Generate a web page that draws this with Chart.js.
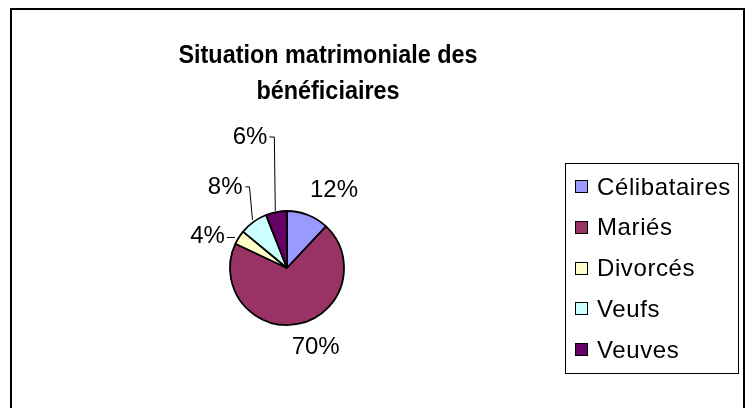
<!DOCTYPE html>
<html>
<head>
<meta charset="utf-8">
<script src="https://cdn.jsdelivr.net/npm/chart.js@4.4.1/dist/chart.umd.min.js"></script>
<style>
  html, body { margin: 0; padding: 0; background: #fff; }
  #wrap { width: 746px; height: 408px; }
</style>
</head>
<body>
<div id="wrap"><canvas id="graphique" width="746" height="408"></canvas></div>
<script>
// Données du graphique
const categories = ['Célibataires', 'Mariés', 'Divorcés', 'Veufs', 'Veuves'];
const pourcentages = [12, 70, 4, 8, 6];
const couleurs = ['#9999FF', '#993366', '#FFFFCC', '#CCFFFF', '#660066'];
const titreLignes = ['Situation matrimoniale des', 'bénéficiaires'];

// placement des étiquettes (décalages par rapport au bord de la part)
const placementEtiquettes = [
  { dx: 26, dy: -25 },
  { dx: 18, dy: 23 },
  { leader: [[-4, 0], [-12, 0]], dx: -14, dy: -1 },
  { leader: [[-1, -2], [-4, -35], [-8, -35]], dx: -11, dy: -35 },
  { leader: [[-1, -1], [-2, -75], [-7, -75]], dx: -9, dy: -75 }
];

const POLICE = '"Liberation Sans", Arial, sans-serif';

const decor = {
  id: 'decor',
  afterDraw(chart) {
    const ctx = chart.ctx;
    ctx.save();

    // cadre
    ctx.strokeStyle = '#000';
    ctx.lineWidth = 2;
    ctx.strokeRect(11, 9, 733, 404);

    // titre (police un peu resserrée comme dans Excel)
    ctx.fillStyle = '#000';
    ctx.font = 'bold 26px ' + POLICE;
    ctx.textAlign = 'center';
    ctx.textBaseline = 'alphabetic';
    ctx.save();
    ctx.translate(328, 0);
    ctx.scale(0.9, 1);
    ctx.fillText(titreLignes[0], 0, 63);
    ctx.fillText(titreLignes[1], 0, 99);
    ctx.restore();

    // étiquettes de pourcentage
    const arcs = chart.getDatasetMeta(0).data;
    ctx.font = '24px ' + POLICE;
    ctx.lineWidth = 1;
    arcs.forEach((arc, i) => {
      const p = arc.getProps(['x', 'y', 'startAngle', 'endAngle', 'outerRadius'], true);
      const mid = (p.startAngle + p.endAngle) / 2;
      const ax = p.x + Math.cos(mid) * p.outerRadius;
      const ay = p.y + Math.sin(mid) * p.outerRadius;
      const pl = placementEtiquettes[i];
      const txt = pourcentages[i] + '%';
      if (pl.leader) {
        ctx.beginPath();
        pl.leader.forEach((pt, k) => {
          if (k === 0) ctx.moveTo(ax + pt[0], ay + pt[1]);
          else ctx.lineTo(ax + pt[0], ay + pt[1]);
        });
        ctx.strokeStyle = '#000';
        ctx.stroke();
        ctx.textAlign = 'right';
      } else {
        ctx.textAlign = 'center';
      }
      ctx.textBaseline = 'middle';
      ctx.fillText(txt, ax + pl.dx, ay + pl.dy);
    });

    // légende
    ctx.strokeStyle = '#000';
    ctx.lineWidth = 1;
    ctx.strokeRect(565.5, 163.5, 173, 210);
    ctx.textAlign = 'left';
    ctx.textBaseline = 'middle';
    ctx.letterSpacing = '0.6px';
    categories.forEach((c, i) => {
      const y = 187 + i * 40.8;
      ctx.fillStyle = couleurs[i];
      ctx.fillRect(575.5, Math.round(y) - 6.5, 12, 12);
      ctx.strokeRect(575.5, Math.round(y) - 6.5, 12, 12);
      ctx.fillStyle = '#000';
      ctx.fillText(c, 597, y + 1);
    });
    ctx.restore();
  }
};

new Chart(document.getElementById('graphique'), {
  type: 'pie',
  data: {
    labels: categories,
    datasets: [{
      data: pourcentages,
      backgroundColor: couleurs,
      borderColor: '#000',
      borderWidth: 1.8
    }]
  },
  options: {
    responsive: false,
    animation: false,
    radius: 57,
    layout: { padding: { left: 187, right: 359, top: 188, bottom: 60 } },
    plugins: {
      legend: { display: false },
      title: { display: false },
      tooltip: { enabled: false }
    }
  },
  plugins: [decor]
});
</script>
</body>
</html>
